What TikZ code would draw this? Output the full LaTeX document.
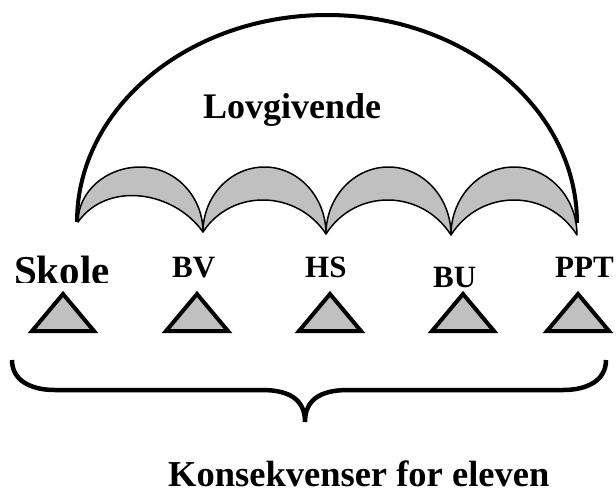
\documentclass[tikz,border=0pt]{standalone}
\usepackage{fontspec}
\setmainfont{Liberation Serif}
\usetikzlibrary{calc}
\definecolor{moongrey}{HTML}{C0C0C0}
\tikzset{
  moon/.style={draw=black, line width=1.5pt, fill=moongrey, line join=round},
  bigarc/.style={draw=black, line width=4pt},
  tri/.style={draw=black, line width=4pt, fill=moongrey, line join=miter},
  brace/.style={draw=black, line width=4.5pt},
  lbl/.style={inner sep=0pt, anchor=base west, font=\bfseries\fontsize{31}{31}\selectfont},
  biglbl/.style={inner sep=0pt, anchor=base west, font=\bfseries\fontsize{36}{36}\selectfont},
}
\begin{document}
\begin{tikzpicture}[x=1pt, y=-1pt]
\useasboundingbox (0,0) rectangle (616,488);

% four grey crescents along the base of the dome
\foreach \xa/\ya/\xb/\yb/\ti in {78/222/203/232/196, 203/232/326/234/200, 326/234/451/235/200, 451/235/577/235/200} {
  \pgfmathsetmacro\qmx{(\xa+\xb)/2}
  \pgfmathsetmacro\qrx{(\xb-\xa)/2}
  \pgfmathsetmacro\qca{\ya-0.5523*(\ya-167)}
  \pgfmathsetmacro\qcb{\yb-0.5523*(\yb-167)}
  \pgfmathsetmacro\qcl{\qmx-0.5523*\qrx}
  \pgfmathsetmacro\qcr{\qmx+0.5523*\qrx}
  \pgfmathsetmacro\qhh{((\ya+\yb)/2-\ti)/0.75}
  \pgfmathsetmacro\qia{\ya-\qhh}
  \pgfmathsetmacro\qib{\yb-\qhh}
  \pgfmathsetmacro\qixa{\xa+0.47*\qrx}
  \pgfmathsetmacro\qixb{\xb-0.47*\qrx}
  \draw[moon] (\xa,\ya) .. controls (\xa,\qca) and (\qcl,167) .. (\qmx,167)
     .. controls (\qcr,167) and (\xb,\qcb) .. (\xb,\yb)
     .. controls (\qixb,\qib) and (\qixa,\qia) .. cycle;
}

% the dome over everything
\coordinate (domeL) at (77,222);
\coordinate (domeT) at (327,15);
\coordinate (domeR) at (577,223);
\draw[bigarc] (domeL) .. controls (77,107.7) and (188.9,15) .. (domeT)
  .. controls (465.1,15) and (577,108.7) .. (domeR);

\node[biglbl] (lov) at (203,118) {Lovgivende};

% labels above the triangles
\begin{scope}
  \clip (0,240) rectangle (150,282);
  \node[inner sep=0pt, anchor=base west, font=\bfseries\fontsize{41}{41}\selectfont] (skole) at (14,284) {Skole};
\end{scope}
\node[lbl] (bv) at (172,277) {BV};
\node[lbl] (hs) at (305,277) {HS};
\node[lbl] (bu) at (433,287) {BU};
\node[lbl] (ppt) at (555,277) {PPT};

% triangles
\foreach \tx [count=\i] in {63,197,330,463,578} {
  \coordinate (t\i) at (\tx,294);
  \draw[tri] (t\i) -- ++(31,37) -- ++(-62,0) -- cycle;
}

% brace under the row
\coordinate (braceL) at (12,360);
\coordinate (braceTip) at (305,422);
\coordinate (braceR) at (606,360);
\draw[brace] (braceL) .. controls (12,380) and (30,390) .. (55,390) -- (262,390)
  .. controls (290,390) and (305,400) .. (braceTip)
  .. controls (305,400) and (320,390) .. (348,390) -- (563,390)
  .. controls (588,390) and (606,380) .. (braceR);

\node[inner sep=0pt, anchor=base west, font=\bfseries\fontsize{36.5}{36.5}\selectfont] (kons) at (168,486) {Konsekvenser for eleven};
\end{tikzpicture}
\end{document}
